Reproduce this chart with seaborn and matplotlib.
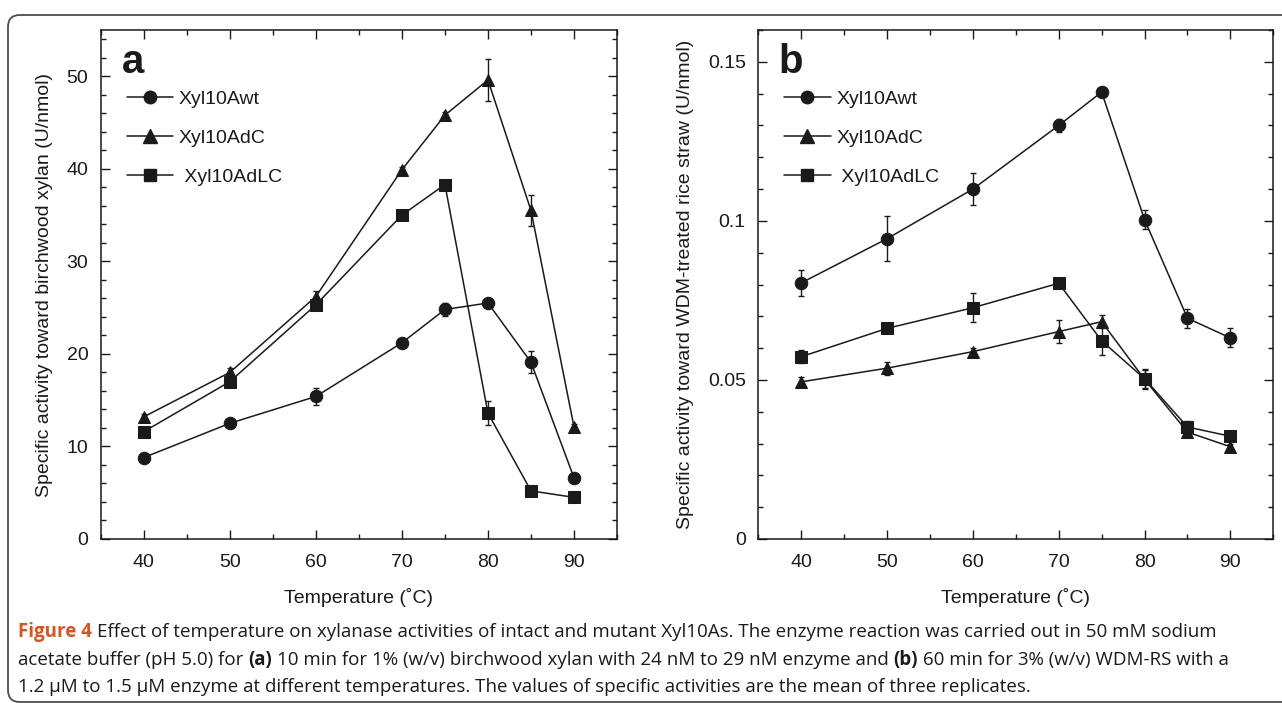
import matplotlib
matplotlib.use("Agg")
import numpy as np
import pandas as pd
import matplotlib.pyplot as plt
import seaborn as sns
from matplotlib.patches import FancyBboxPatch
from matplotlib.ticker import MultipleLocator
from matplotlib.lines import Line2D


# DATA
temps = [40, 50, 60, 70, 75, 80, 85, 90]
enzymes = ["Xyl10Awt", "Xyl10AdC", "Xyl10AdLC"]
legend_labels = ["Xyl10Awt", "Xyl10AdC", " Xyl10AdLC"]

# (a) birchwood xylan, U/nmol
xylan_wt = [8.8, 12.5, 15.4, 21.2, 24.8, 25.5, 19.1, 6.6]
xylan_wt_err = [0.3, 0.3, 0.9, 0.4, 0.7, 0.3, 1.2, 0.3]
xylan_dc = [13.2, 18.0, 26.2, 39.9, 45.8, 49.6, 35.5, 12.1]
xylan_dc_err = [0.3, 0.5, 0.6, 0.3, 0.3, 2.3, 1.7, 0.3]
xylan_dlc = [11.6, 17.0, 25.3, 35.0, 38.3, 13.6, 5.2, 4.5]
xylan_dlc_err = [0.3, 0.3, 0.3, 0.3, 0.3, 1.3, 0.2, 0.2]

# (b) WDM-treated rice straw, U/nmol
straw_wt = [0.0805, 0.0944, 0.110, 0.130, 0.1405, 0.1004, 0.0694, 0.0632]
straw_wt_err = [0.004, 0.007, 0.005, 0.002, 0.001, 0.003, 0.003, 0.003]
straw_dc = [0.0494, 0.0537, 0.0589, 0.0652, 0.0683, 0.0502, 0.0336, 0.029]
straw_dc_err = [0.0015, 0.002, 0.001, 0.0035, 0.002, 0.003, 0.001, 0.001]
straw_dlc = [0.0573, 0.0662, 0.0727, 0.0804, 0.0623, 0.0504, 0.0352, 0.0323]
straw_dlc_err = [0.002, 0.001, 0.0045, 0.001, 0.0045, 0.003, 0.002, 0.001]

markers = {"Xyl10Awt": "o", "Xyl10AdC": "^", "Xyl10AdLC": "s"}
msizes = {"Xyl10Awt": 9, "Xyl10AdC": 10, "Xyl10AdLC": 9}
ink = "#1a1a1a"
fs = 14


def long_frame(values, errors):
    rows = []
    for name, vals, errs in zip(enzymes, values, errors):
        for t, v, e in zip(temps, vals, errs):
            rows.append({"Temperature": t, "Activity": v, "Err": e, "Enzyme": name})
    return pd.DataFrame(rows)


df_a = long_frame([xylan_wt, xylan_dc, xylan_dlc], [xylan_wt_err, xylan_dc_err, xylan_dlc_err])
df_b = long_frame([straw_wt, straw_dc, straw_dlc], [straw_wt_err, straw_dc_err, straw_dlc_err])

sns.set_theme(style="ticks")
plt.rcParams["font.family"] = ["Liberation Sans", "DejaVu Sans"]
plt.rcParams["axes.linewidth"] = 1.1
plt.rcParams["axes.edgecolor"] = ink

fig = plt.figure(figsize=(12.82, 7.03), dpi=100)
ax_a = fig.add_axes([0.0786, 0.2333, 0.4027, 0.724])
ax_b = fig.add_axes([0.5915, 0.2333, 0.4017, 0.724])


def draw_panel(ax, df, ylim, ymajor, yminor, yticks, yticklabels, ylabel, letter):
    for name in enzymes:
        sub = df[df["Enzyme"] == name]
        ax.errorbar(sub["Temperature"], sub["Activity"], yerr=sub["Err"], fmt="none",
                    ecolor=ink, elinewidth=1.0, capsize=2.5, capthick=1.0, zorder=2)
    sns.lineplot(data=df, x="Temperature", y="Activity", hue="Enzyme", style="Enzyme",
                 markers=markers, dashes=False, palette=[ink] * 3, ax=ax,
                 linewidth=1.1, markersize=9, markeredgecolor=ink, legend=False, zorder=3)

    ax.set_xlim(35, 95)
    ax.set_ylim(*ylim)
    ax.xaxis.set_major_locator(MultipleLocator(10))
    ax.xaxis.set_minor_locator(MultipleLocator(5))
    ax.yaxis.set_major_locator(MultipleLocator(ymajor))
    ax.yaxis.set_minor_locator(MultipleLocator(yminor))
    ax.set_xticks([40, 50, 60, 70, 80, 90])
    ax.set_yticks(yticks)
    ax.set_yticklabels(yticklabels)
    ax.tick_params(which="both", direction="in", top=True, right=True, color=ink,
                   labelsize=fs, labelcolor=ink, width=1.0)
    ax.tick_params(which="major", length=6.5, pad=9)
    ax.tick_params(which="minor", length=3.5)
    ax.tick_params(axis="x", which="major", pad=11)
    for s in ax.spines.values():
        s.set_visible(True)
        s.set_color(ink)

    ax.set_xlabel("Temperature (˚C)", fontsize=fs, color=ink, labelpad=12)
    ax.set_ylabel(ylabel, fontsize=fs, color=ink, labelpad=10)

    ax.text(0.04, 0.975, letter, transform=ax.transAxes, fontsize=29, fontweight="bold",
            color=ink, va="top", ha="left")

    handles = [Line2D([0], [0], color=ink, lw=1.1, marker=markers[n], markersize=msizes[n],
                      markerfacecolor=ink, markeredgecolor=ink) for n in enzymes]
    ax.legend(handles, legend_labels, loc="upper left", bbox_to_anchor=(0.05, 0.882),
              frameon=False, fontsize=fs, handlelength=2.41, handletextpad=0.27,
              labelspacing=1.11, borderpad=0, borderaxespad=0, numpoints=1,
              labelcolor=ink)


draw_panel(ax_a, df_a, (0, 55), 10, 2, [0, 10, 20, 30, 40, 50],
           ["0", "10", "20", "30", "40", "50"],
           "Specific activity toward birchwood xylan (U/nmol)", "a")
draw_panel(ax_b, df_b, (0, 0.16), 0.05, 0.01, [0, 0.05, 0.1, 0.15],
           ["0", "0.05", "0.1", "0.15"],
           "Specific activity toward WDM-treated rice straw (U/nmol)", "b")

# rounded frame round the figure (open to the right)
frame = FancyBboxPatch((8, 1), 1400, 687, boxstyle="round,pad=0,rounding_size=12",
                       transform=None, fill=False, edgecolor="#4d4d4d", linewidth=1.3)
fig.patches.append(frame)

# caption with mixed weights
cap_font = ["Open Sans", "DejaVu Sans"]
cap_size = 13.5
orange = "#d9541e"
caption = [
    [("Figure 4", "bold", orange),
     ("Effect of temperature on xylanase activities of intact and mutant Xyl10As. The enzyme reaction was carried out in 50 mM sodium", "normal", ink)],
    [("acetate buffer (pH 5.0) for", "normal", ink), ("(a)", "bold", ink),
     ("10 min for 1% (w/v) birchwood xylan with 24 nM to 29 nM enzyme and", "normal", ink),
     ("(b)", "bold", ink), ("60 min for 3% (w/v) WDM-RS with a", "normal", ink)],
    [("1.2 µM to 1.5 µM enzyme at different temperatures. The values of specific activities are the mean of three replicates.", "normal", ink)],
]
line_y = [703 - 637, 703 - 665, 703 - 692]

renderer = fig.canvas.get_renderer()
probe1 = fig.text(0, 0, "aa", family=cap_font, fontsize=cap_size)
probe2 = fig.text(0, 0, "a a", family=cap_font, fontsize=cap_size)
space_w = probe2.get_window_extent(renderer).width - probe1.get_window_extent(renderer).width
probe1.remove()
probe2.remove()

for runs, y in zip(caption, line_y):
    x = 18
    for txt, weight, color in runs:
        t = fig.text(x, y, txt, transform=None, family=cap_font, fontsize=cap_size,
                     fontweight=weight, color=color, va="baseline", ha="left")
        x += t.get_window_extent(renderer).width + space_w

fig.savefig("out.png", dpi=100)
